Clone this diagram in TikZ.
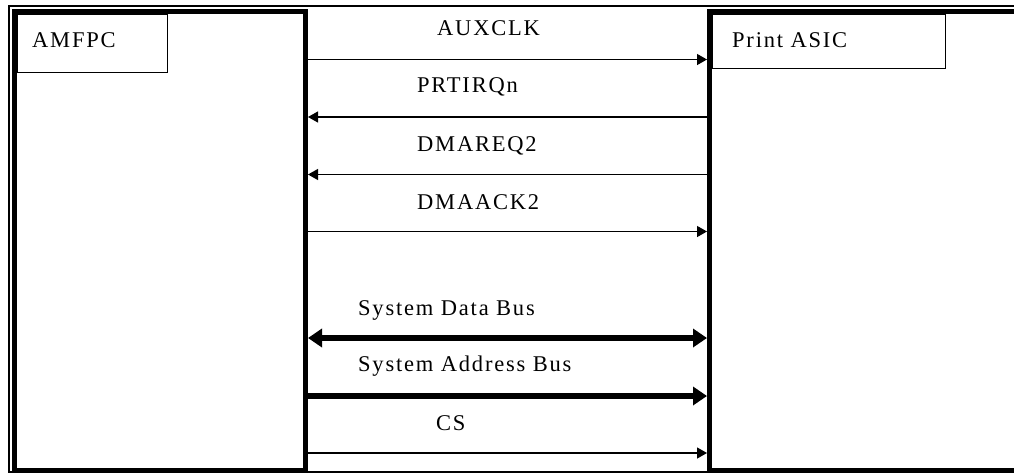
\documentclass[tikz,border=0pt]{standalone}
\usepackage{fontspec}
\setmainfont{Liberation Serif}[LetterSpace=8]
\usetikzlibrary{arrows.meta,positioning}

\begin{document}
\begin{tikzpicture}[
        x=1pt, y=-1pt,
        chip/.style={rectangle, draw, line width=5pt, inner sep=0pt},
        tag/.style={rectangle, draw, line width=1pt, anchor=north west, inner sep=0pt},
        lbl/.style={font=\fontsize{22.5}{26}\selectfont, anchor=base west, inner sep=0pt},
        sig/.style={line width=1.3pt, -{Triangle[length=10pt, width=11pt]}},
        bus/.style={line width=5.5pt, -{Triangle[length=14pt, width=18pt]}},
        dbus/.style={line width=5.5pt, {Triangle[length=14pt, width=18pt]}-{Triangle[length=14pt, width=18pt]}}
      ]
      \useasboundingbox (0,0) rectangle (1014,474);
      \draw[line width=2pt] (9,6) rectangle (1040,472);

      \node[chip, minimum width=291.5pt, minimum height=459pt] (amfpc) at (159.75,241) {};
      \node[chip, minimum width=330pt, minimum height=459pt, anchor=west] (asic) at (707,241) {};

      \node[tag, minimum width=150pt, minimum height=58pt] (amfpcTag) at (16.5,14) {};
      \node[lbl] (amfpcName) at (32,47) {AMFPC};
      \node[tag, minimum width=233pt, minimum height=54pt] (asicTag) at (712,14) {};
      \node[lbl] (asicName) at (732,47) {Print ASIC};

      \node[lbl] (auxclk) at (437,35.5) {AUXCLK};
      \draw[sig] (amfpc.east |- 0,59.5) -- (asic.west |- 0,59.5);
      \node[lbl] (prtirq) at (417,92.5) {PRTIRQn};
      \draw[sig] (asic.west |- 0,117) -- (amfpc.east |- 0,117);
      \node[lbl] (dmareq) at (417,151.5) {DMAREQ2};
      \draw[sig] (asic.west |- 0,174.5) -- (amfpc.east |- 0,174.5);
      \node[lbl] (dmaack) at (417,209.5) {DMAACK2};
      \draw[sig] (amfpc.east |- 0,231.5) -- (asic.west |- 0,231.5);

      \node[lbl] (databus) at (358,315) {System Data Bus};
      \draw[dbus] (amfpc.east |- 0,338) -- (asic.west |- 0,338);
      \node[lbl] (addrbus) at (358,371.5) {System Address Bus};
      \draw[bus] (amfpc.east |- 0,396) -- (asic.west |- 0,396);
      \node[lbl] (cs) at (436,430) {CS};
      \draw[sig] (amfpc.east |- 0,453) -- (asic.west |- 0,453);
    \end{tikzpicture}
\end{document}
